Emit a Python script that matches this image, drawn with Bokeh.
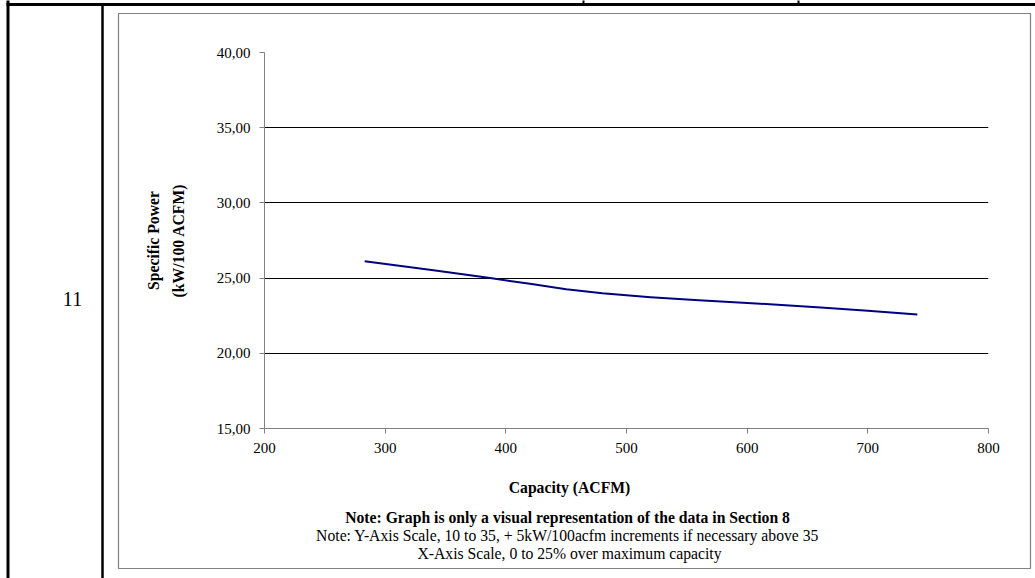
from bokeh.plotting import figure
from bokeh.models import Range1d, FixedTicker
from bokeh.core.properties import value
from bokeh.embed import file_html
from bokeh.resources import INLINE

# ---- data ----
capacity = [283, 340, 387, 420, 450, 480, 520, 560, 611, 661, 700, 741]
specific_power = [26.12, 25.52, 25.00, 24.62, 24.26, 23.99, 23.73, 23.52, 23.30, 23.05, 22.83, 22.58]
x_ticks = [200, 300, 400, 500, 600, 700, 800]
y_ticks = [15, 20, 25, 30, 35, 40]
y_tick_labels = ["15,00", "20,00", "25,00", "30,00", "35,00", "40,00"]
row_label = "11"
x_title = "Capacity (ACFM)"
y_title = "Specific Power\n(kW/100 ACFM)"
note_bold = "Note:  Graph is only a visual representation of the data in Section 8"
note_lines = [
    "Note:  Y-Axis Scale, 10 to 35, + 5kW/100acfm increments if necessary above 35",
    "X-Axis Scale, 0 to 25% over maximum capacity",
]

# ---- layout (page pixels) ----
W, H = 1035, 578
FL, FR, FT, FB = 264, 988, 52, 428
X0, X1 = 200, 800
Y0, Y1 = 15, 40
FONT = "Liberation Serif"


def dx(px):
    return X0 + (px - FL) * (X1 - X0) / (FR - FL)


def dy(py):
    return Y1 - (py - FT) * (Y1 - Y0) / (FB - FT)


p = figure(width=W, height=H, x_range=Range1d(X0, X1), y_range=Range1d(Y0, Y1),
           min_border_left=FL, min_border_right=W - FR,
           min_border_top=FT, min_border_bottom=H - FB,
           output_backend="svg", toolbar_location=None)
p.outline_line_color = None
p.background_fill_color = "white"
p.border_fill_color = "white"

# axes
for ax in (p.xaxis, p.yaxis):
    ax.axis_line_color = "#808080"
    ax.axis_line_width = 1
    ax.major_tick_line_color = "#808080"
    ax.major_tick_out = 5
    ax.major_tick_in = 0
    ax.minor_tick_line_color = None
    ax.major_label_text_font = FONT
    ax.major_label_text_font_size = "15px"
    ax.major_label_text_color = "black"

p.xaxis.ticker = FixedTicker(ticks=x_ticks)
p.xaxis.major_label_standoff = 9
p.yaxis.ticker = FixedTicker(ticks=y_ticks)
p.yaxis.major_label_overrides = {t: lab for t, lab in zip(y_ticks, y_tick_labels)}
p.yaxis.major_label_standoff = 9

p.yaxis.axis_label = y_title
p.yaxis.axis_label_text_font = FONT
p.yaxis.axis_label_text_font_size = "15.7px"
p.yaxis.axis_label_text_font_style = "bold"
p.yaxis.axis_label_text_color = "black"
p.yaxis.axis_label_text_line_height = 1.45
p.yaxis.axis_label_standoff = 27

# grid
p.xgrid.visible = False
p.ygrid.ticker = FixedTicker(ticks=y_ticks)
p.ygrid.grid_line_color = "black"
p.ygrid.grid_line_width = 1

# data line
p.line(capacity, specific_power, line_color="#000080", line_width=2, line_join="round")

# texts below the plot (drawn as text glyphs on the overlay level)
CX = 569
p.text(x=[dx(CX), dx(CX)], y=[dy(487), dy(516.5)], text=[x_title, note_bold],
       text_align="center", text_baseline="alphabetic",
       text_font=value(FONT), text_font_size=value("15.7px"),
       text_font_style=value("bold"), text_color="black", level="overlay")
p.text(x=[dx(CX)] * len(note_lines), y=[dy(535 + 18 * i) for i in range(len(note_lines))],
       text=note_lines, text_align="center", text_baseline="alphabetic",
       text_font=value(FONT), text_font_size=value("15.7px"),
       text_color="black", level="overlay")

# row label of the surrounding table
p.text(x=[dx(72)], y=[dy(298)], text=[row_label], text_align="center",
       text_baseline="middle", text_font=value(FONT), text_font_size=value("20px"),
       text_color="black", level="overlay")

# surrounding table rules and chart box (decoration)
p.quad(left=dx(118), right=dx(1030), top=dy(13), bottom=dy(568),
       fill_color=None, line_color="#808080", line_width=1.2, level="overlay")
rules = [  # (x0, y0, x1, y1, width)
    (7.5, 0, 7.5, 578, 3),
    (6, 4, 1035, 4, 3),
    (102, 4, 102, 578, 2.5),
    (583, 0, 583, 4, 2),
    (798, 0, 798, 4, 2),
]
for x0, y0, x1, y1, w in rules:
    p.segment(x0=[dx(x0)], y0=[dy(y0)], x1=[dx(x1)], y1=[dy(y1)],
              line_color="black", line_width=w, level="overlay")

open("out.html", "w").write(file_html(p, INLINE))
